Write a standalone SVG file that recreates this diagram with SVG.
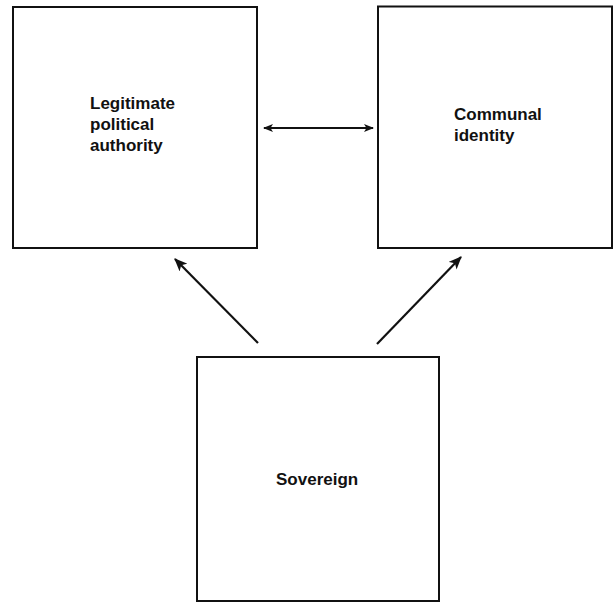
<svg xmlns="http://www.w3.org/2000/svg" width="613" height="602" viewBox="0 0 613 602">
<style>
.box{fill:#fff;stroke:#111;stroke-width:2}
.lbl{font-family:"Liberation Sans",Arial,sans-serif;font-size:17px;font-weight:bold;fill:#111}
.conn{stroke:#111;stroke-width:2.2;fill:none}
</style>
<defs>
<marker id="ah" viewBox="0 0 10 8" refX="9" refY="4" markerWidth="10" markerHeight="8" markerUnits="userSpaceOnUse" orient="auto-start-reverse">
<path d="M0,0 L10,4 L0,8 L2.5,4 Z" fill="#111"/>
</marker>
<marker id="ah2" viewBox="0 0 12 10" refX="11" refY="5" markerWidth="14" markerHeight="11" markerUnits="userSpaceOnUse" orient="auto">
<path d="M0,0 L12,5 L0,10 L3,5 Z" fill="#111"/>
</marker>
</defs>
<rect width="613" height="602" fill="#fff"/>
<g id="legitimate">
<rect class="box" x="13" y="7" width="244" height="241"/>
<text class="lbl" x="90" y="109">Legitimate</text>
<text class="lbl" x="90" y="130">political</text>
<text class="lbl" x="90" y="151">authority</text>
</g>
<g id="communal">
<rect class="box" x="378" y="6.5" width="234" height="241.5"/>
<text class="lbl" x="454" y="120">Communal</text>
<text class="lbl" x="454" y="141">identity</text>
</g>
<g id="sovereign">
<rect class="box" x="197" y="357" width="242" height="244"/>
<text class="lbl" x="276" y="485">Sovereign</text>
</g>
<g id="connectors">
<line class="conn" x1="264" y1="128" x2="373" y2="128" marker-start="url(#ah)" marker-end="url(#ah)" stroke-width="1.6"/>
<line class="conn" x1="258" y1="343" x2="175" y2="259" marker-end="url(#ah2)"/>
<line class="conn" x1="377" y1="344" x2="461" y2="257" marker-end="url(#ah2)"/>
</g>
</svg>
